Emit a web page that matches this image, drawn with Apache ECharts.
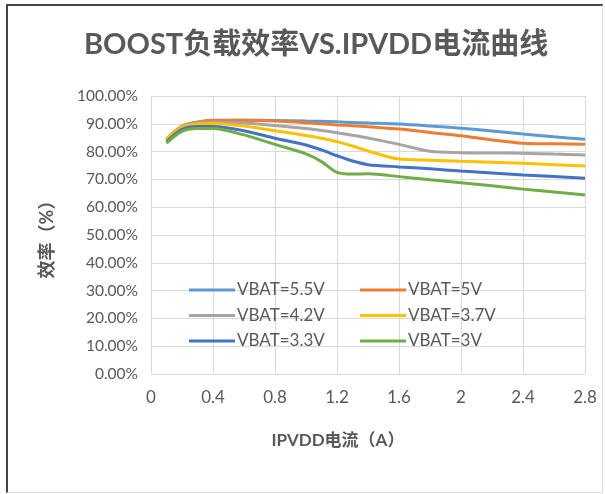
<!DOCTYPE html>
<html>
<head>
<meta charset="utf-8">
<script src="https://cdn.jsdelivr.net/npm/echarts@6/dist/echarts.min.js"></script>
<style>
  html, body { margin: 0; padding: 0; background: #fff; }
  #frame {
    position: absolute; left: 6px; top: 4px; width: 594px; height: 486px;
    border-left: 2px solid #444; border-top: 2px solid #444;
    border-right: 1px solid #ddd; border-bottom: 1px solid #ddd;
  }
  #chart { position: absolute; left: 0; top: 0; width: 605px; height: 494px; }
</style>
</head>
<body>
<div id="frame"></div>
<div id="chart"></div>
<script>
// 电流 (A)
const currents = [0.1, 0.2, 0.3, 0.4, 0.6, 0.8, 1.0, 1.1, 1.2, 1.3, 1.4, 1.6, 1.8, 2.0, 2.2, 2.4, 2.6, 2.8]
// 效率 (%)
const vbat55 = [84.5, 89.0, 90.5, 91.2, 91.3, 91.2, 91.0, 90.9, 90.7, 90.5, 90.3, 89.9, 89.2, 88.4, 87.4, 86.3, 85.3, 84.4]
const vbat50 = [84.5, 89.2, 90.7, 91.3, 91.3, 91.0, 90.4, 90.0, 89.6, 89.3, 88.9, 88.1, 86.9, 85.7, 84.2, 83.0, 82.8, 82.6]
const vbat42 = [84.3, 89.0, 90.3, 90.6, 90.3, 89.4, 88.3, 87.6, 86.8, 85.9, 84.9, 82.6, 80.1, 79.6, 79.5, 79.4, 79.1, 78.8]
const vbat37 = [84.5, 88.8, 89.9, 90.1, 89.2, 87.5, 85.8, 84.8, 83.6, 82.0, 80.2, 77.3, 76.9, 76.5, 76.2, 75.8, 75.3, 74.8]
const vbat33 = [83.5, 88.0, 89.0, 89.0, 87.5, 84.8, 82.4, 80.6, 78.5, 76.6, 75.3, 74.5, 73.8, 73.0, 72.3, 71.6, 71.0, 70.4]
const vbat30 = [83.0, 87.3, 88.3, 88.3, 86.0, 82.6, 79.2, 76.4, 72.5, 71.9, 72.0, 71.0, 69.9, 68.8, 67.7, 66.5, 65.5, 64.4]
const xTicks = [0, 0.4, 0.8, 1.2, 1.6, 2, 2.4, 2.8]

const seriesList = [
  { name: 'VBAT=5.5V', data: vbat55, color: '#5B9BD5' },
  { name: 'VBAT=5V', data: vbat50, color: '#ED7D31' },
  { name: 'VBAT=4.2V', data: vbat42, color: '#A5A5A5' },
  { name: 'VBAT=3.7V', data: vbat37, color: '#FFC000' },
  { name: 'VBAT=3.3V', data: vbat33, color: '#4472C4' },
  { name: 'VBAT=3V', data: vbat30, color: '#70AD47' }
]

const fontFam = "Lato, 'Noto Sans CJK SC', sans-serif"
const chart = echarts.init(document.getElementById('chart'))

const legendBase = {
  orient: 'vertical',
  top: 276,
  icon: 'rect',
  itemWidth: 46,
  itemHeight: 3,
  itemGap: 7.5,
  textStyle: { color: '#595959', fontSize: 17, lineHeight: 18, fontFamily: fontFam, padding: [0, 0, 0, -3] }
}

chart.setOption({
  animation: false,
  title: {
    text: 'BOOST负载效率VS.IPVDD电流曲线',
    left: 79,
    top: 25,
    textStyle: { color: '#595959', fontSize: 29, fontWeight: 'bold', fontFamily: fontFam }
  },
  grid: { left: 151, right: 20, top: 96, bottom: 120 },
  legend: [
    Object.assign({}, legendBase, { left: 184, data: ['VBAT=5.5V', 'VBAT=4.2V', 'VBAT=3.3V'] }),
    Object.assign({}, legendBase, { left: 355, data: ['VBAT=5V', 'VBAT=3.7V', 'VBAT=3V'] })
  ],
  xAxis: {
    type: 'value',
    min: 0,
    max: 2.8,
    interval: 0.4,
    name: 'IPVDD电流（A）',
    nameLocation: 'middle',
    nameGap: 58,
    nameTextStyle: { color: '#595959', fontSize: 17, fontWeight: 'bold', fontFamily: fontFam, padding: [0, 60, 0, 0] },
    axisLine: { show: false },
    axisTick: { show: false },
    axisLabel: {
      color: '#595959', fontSize: 17, fontFamily: fontFam, margin: 15,
      formatter: v => String(xTicks.find(t => Math.abs(t - v) < 1e-6) ?? v)
    },
    splitLine: { show: true, lineStyle: { color: '#d9d9d9' } }
  },
  yAxis: {
    type: 'value',
    min: 0,
    max: 100,
    interval: 10,
    name: '效率（%）',
    nameLocation: 'middle',
    nameGap: 95,
    nameRotate: 90,
    nameTextStyle: { color: '#595959', fontSize: 18, fontWeight: 'bold', fontFamily: fontFam },
    axisLine: { show: false },
    axisTick: { show: false },
    axisLabel: {
      color: '#595959', fontSize: 15.5, fontFamily: fontFam, margin: 13,
      formatter: v => v.toFixed(2) + '%'
    },
    splitLine: { show: true, lineStyle: { color: '#d9d9d9' } }
  },
  series: seriesList.map(s => ({
    name: s.name,
    type: 'line',
    smooth: 0.3,
    symbol: 'none',
    color: s.color,
    lineStyle: { width: 3, color: s.color },
    itemStyle: { color: s.color },
    data: currents.map((x, i) => [x, s.data[i]])
  }))
})
</script>
</body>
</html>
